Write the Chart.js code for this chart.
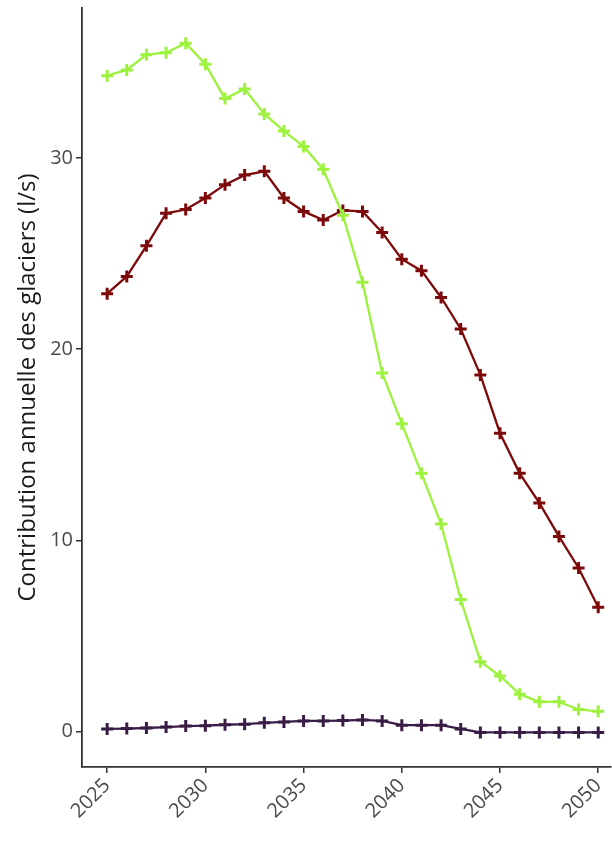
<!DOCTYPE html>
<html>
<head>
<meta charset="utf-8">
<script src="https://cdn.jsdelivr.net/npm/chart.js@4/dist/chart.umd.min.js"></script>
<style>
  html, body { margin: 0; padding: 0; background: #fff; }
  #wrap { width: 612px; height: 842px; position: relative; }
</style>
</head>
<body>
<div id="wrap"><canvas id="glacierChart"></canvas></div>
<script>
// years on the x axis
const years = [2025, 2026, 2027, 2028, 2029, 2030, 2031, 2032, 2033, 2034, 2035, 2036, 2037,
  2038, 2039, 2040, 2041, 2042, 2043, 2044, 2045, 2046, 2047, 2048, 2049, 2050];

// glacier contribution (l/s)
const greenSeries = [34.3, 34.6, 35.4, 35.5, 36.0, 34.9, 33.1, 33.6, 32.3, 31.4, 30.6, 29.4, 27.0,
  23.5, 18.75, 16.1, 13.5, 10.85, 6.9, 3.65, 2.9, 1.95, 1.55, 1.55, 1.15, 1.05];
const redSeries = [22.9, 23.8, 25.4, 27.1, 27.3, 27.9, 28.6, 29.1, 29.3, 27.9, 27.2, 26.75, 27.25,
  27.2, 26.1, 24.7, 24.1, 22.7, 21.05, 18.65, 15.6, 13.5, 11.95, 10.2, 8.55, 6.5];
const purpleSeries = [0.13, 0.15, 0.18, 0.23, 0.28, 0.3, 0.35, 0.38, 0.45, 0.5, 0.55, 0.55, 0.57,
  0.6, 0.55, 0.33, 0.33, 0.33, 0.13, -0.05, -0.05, -0.05, -0.05, -0.05, -0.05, -0.05];

const xTicks = [2025, 2030, 2035, 2040, 2045, 2050];
const yTicks = [0, 10, 20, 30];

const toPoints = vals => vals.map((v, i) => ({ x: years[i], y: v }));

function series(vals, color) {
  return {
    data: toPoints(vals),
    borderColor: color,
    backgroundColor: color,
    borderWidth: 2.3,
    pointStyle: 'cross',
    pointRadius: 6,
    pointBorderWidth: 3,
    pointBorderColor: color,
    tension: 0
  };
}

const tickColor = '#4a4a4a';
const axisColor = '#333333';

new Chart(document.getElementById('glacierChart'), {
  type: 'line',
  data: {
    datasets: [
      series(purpleSeries, '#3a1d47'),
      series(greenSeries, '#9cf23c'),
      series(redSeries, '#7d0a0a')
    ]
  },
  options: {
    responsive: true,
    maintainAspectRatio: false,
    animation: false,
    layout: { autoPadding: false, padding: { top: 8, right: 1, left: 0, bottom: 0 } },
    plugins: {
      legend: { display: false },
      tooltip: { enabled: false }
    },
    scales: {
      x: {
        type: 'linear',
        min: 2023.72,
        max: 2050.65,
        afterBuildTicks: s => { s.ticks = xTicks.map(v => ({ value: v })); },
        afterFit: s => { s.height = 75; s.paddingLeft = 0; s.paddingRight = 0; },
        grid: { display: true, drawOnChartArea: false, drawTicks: true, tickLength: 6, color: axisColor, lineWidth: 1.5 },
        border: { display: true, color: axisColor, width: 1.8 },
        ticks: {
          color: tickColor,
          font: { family: 'Open Sans', size: 20 },
          minRotation: 45,
          maxRotation: 45,
          padding: 1,
          callback: v => String(v)
        }
      },
      y: {
        type: 'linear',
        min: -1.86,
        max: 37.84,
        afterBuildTicks: s => { s.ticks = yTicks.map(v => ({ value: v })); },
        afterFit: s => { s.width = 82; s.paddingTop = 0; s.paddingBottom = 0; },
        grid: { display: true, drawOnChartArea: false, drawTicks: true, tickLength: 6, color: axisColor, lineWidth: 1.5 },
        border: { display: true, color: axisColor, width: 1.8 },
        title: {
          display: true,
          text: 'Contribution annuelle des glaciers (l/s)',
          color: '#1a1a1a',
          font: { family: 'Open Sans', size: 24 },
          padding: { top: 14, bottom: 0 }
        },
        ticks: {
          color: tickColor,
          font: { family: 'Open Sans', size: 20 },
          padding: 3,
          callback: v => String(v)
        }
      }
    }
  }
});
</script>
</body>
</html>
